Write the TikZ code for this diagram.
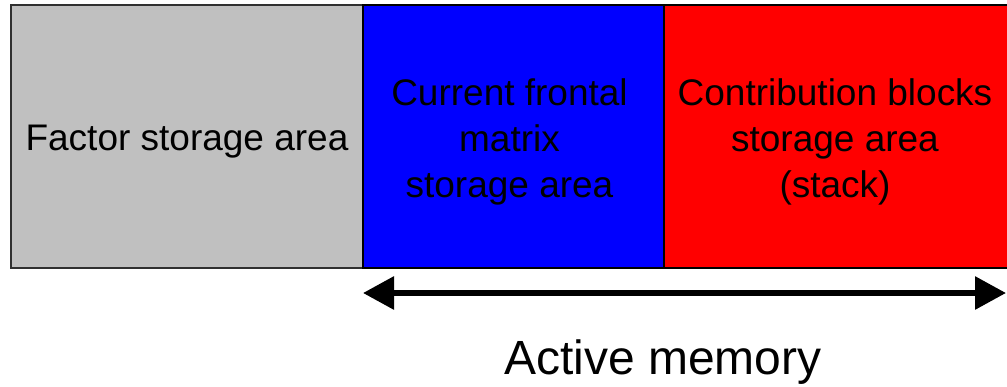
\documentclass[tikz,border=0pt]{standalone}
\usepackage{fontspec}
\setmainfont{Liberation Sans}
\usetikzlibrary{arrows.meta}
\definecolor{areagray}{HTML}{C0C0C0}
\definecolor{edgegray}{HTML}{303030}
\begin{document}
\begin{tikzpicture}[x=1pt,y=-1pt,
  area/.style={draw=edgegray, line width=2pt, anchor=north west, minimum height=263pt,
    inner sep=0pt, outer sep=0pt},
  areatext/.style={align=center, text=black, inner sep=0pt,
    font=\fontsize{37}{46}\selectfont},
  span/.style={line width=6pt, {Triangle[length=31pt,width=32pt]}-{Triangle[length=31pt,width=32pt]}}
]
\useasboundingbox (0,0) rectangle (1007,386);
\node[area, fill=areagray, minimum width=352pt] (factor) at (11,5) {};
\node[area, fill=blue, minimum width=301pt, draw=black] (frontal) at (363,5) {};
\node[area, fill=red, minimum width=346pt, draw=black] (contrib) at (664,5) {};
\node[areatext] (factorlbl) at ([yshift=-5pt]factor.center) {Factor storage area};
\node[areatext] (frontallbl) at ([xshift=-4pt,yshift=-5pt]frontal.center) {Current frontal\\matrix\\storage area};
\node[areatext] (contriblbl) at ([xshift=-2pt,yshift=-5pt]contrib.center) {Contribution blocks\\storage area\\(stack)};
\coordinate (aL) at (363,293);
\coordinate (aR) at (1006,293);
\draw[span] (aL) -- (aR);
\node[font=\fontsize{48}{58}\selectfont] (active) at (663,362) {Active memory};
\end{tikzpicture}
\end{document}
